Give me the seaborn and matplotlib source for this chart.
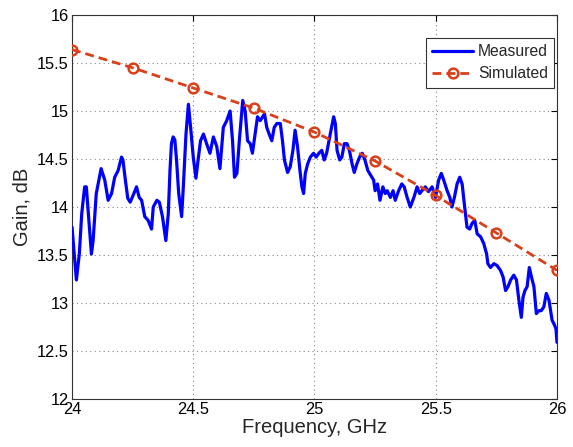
import matplotlib
matplotlib.use("Agg")
import matplotlib.pyplot as plt
import seaborn as sns
import pandas as pd

# Measured gain trace (frequency in GHz, gain in dB)
meas_freq = [
    24.000, 24.018, 24.030, 24.040, 24.052, 24.059, 24.080, 24.087, 24.100, 24.120,
    24.135, 24.149, 24.163, 24.176, 24.190, 24.204, 24.210, 24.220, 24.230, 24.240,
    24.255, 24.266, 24.277, 24.287, 24.300, 24.314, 24.328, 24.335, 24.350, 24.360,
    24.373, 24.387, 24.397, 24.404, 24.410, 24.417, 24.424, 24.431, 24.440, 24.452,
    24.459, 24.470, 24.480, 24.489, 24.500, 24.511, 24.520, 24.530, 24.542, 24.555,
    24.569, 24.583, 24.597, 24.610, 24.624, 24.638, 24.652, 24.662, 24.670, 24.680,
    24.690, 24.704, 24.714, 24.724, 24.735, 24.744, 24.755, 24.765, 24.776, 24.786,
    24.794, 24.803, 24.813, 24.824, 24.834, 24.845, 24.859, 24.868, 24.876, 24.889,
    24.900, 24.911, 24.920, 24.930, 24.940, 24.948, 24.955, 24.962, 24.972, 24.983,
    24.996, 25.007, 25.018, 25.030, 25.040, 25.050, 25.065, 25.079, 25.086, 25.093,
    25.104, 25.113, 25.123, 25.134, 25.144, 25.155, 25.164, 25.175, 25.186, 25.197,
    25.208, 25.220, 25.232, 25.244, 25.250, 25.260, 25.270, 25.282, 25.292, 25.300,
    25.313, 25.324, 25.333, 25.347, 25.360, 25.370, 25.382, 25.395, 25.410, 25.423,
    25.434, 25.443, 25.457, 25.470, 25.485, 25.499, 25.512, 25.523, 25.533, 25.547,
    25.558, 25.567, 25.577, 25.588, 25.599, 25.609, 25.618, 25.629, 25.640, 25.650,
    25.661, 25.671, 25.685, 25.698, 25.710, 25.715, 25.726, 25.740, 25.753, 25.767,
    25.778, 25.788, 25.798, 25.809, 25.822, 25.833, 25.843, 25.853, 25.860, 25.868,
    25.877, 25.886, 25.895, 25.905, 25.915, 25.926, 25.935, 25.946, 25.956, 25.967,
    25.980, 25.990, 25.996, 26.000,
]
meas_gain = [
    13.79, 13.24, 13.51, 13.93, 14.21, 14.21, 13.51, 13.65, 14.14, 14.40,
    14.28, 14.07, 14.14, 14.31, 14.38, 14.52, 14.49, 14.28, 14.09, 14.05,
    14.14, 14.21, 14.10, 14.07, 13.90, 13.86, 13.77, 14.00, 14.07, 14.05,
    13.90, 13.65, 13.93, 14.38, 14.66, 14.73, 14.70, 14.49, 14.14, 13.90,
    14.21, 14.76, 15.07, 14.83, 14.52, 14.30, 14.49, 14.69, 14.76, 14.66,
    14.56, 14.73, 14.63, 14.40, 14.83, 14.90, 15.00, 14.69, 14.31, 14.35,
    14.69, 15.11, 15.00, 14.69, 14.66, 14.56, 14.76, 14.94, 14.90, 14.94,
    14.97, 14.83, 14.76, 14.69, 14.83, 14.87, 14.87, 14.69, 14.49, 14.36,
    14.42, 14.59, 14.80, 14.63, 14.38, 14.21, 14.14, 14.35, 14.45, 14.52,
    14.56, 14.52, 14.56, 14.59, 14.49, 14.56, 14.76, 14.94, 14.87, 14.59,
    14.49, 14.52, 14.66, 14.66, 14.59, 14.45, 14.36, 14.45, 14.52, 14.56,
    14.49, 14.38, 14.33, 14.28, 14.17, 14.24, 14.07, 14.21, 14.14, 14.17,
    14.10, 14.17, 14.07, 14.17, 14.24, 14.21, 14.10, 14.00, 14.10, 14.21,
    14.14, 14.17, 14.21, 14.16, 14.21, 14.10, 14.28, 14.35, 14.28, 14.17,
    14.10, 14.00, 14.10, 14.24, 14.31, 14.24, 14.03, 13.79, 13.77, 13.83,
    13.86, 13.72, 13.69, 13.62, 13.51, 13.41, 13.37, 13.41, 13.39, 13.34,
    13.27, 13.13, 13.17, 13.24, 13.29, 13.24, 13.03, 12.85, 13.06, 13.13,
    13.17, 13.37, 13.27, 13.17, 12.89, 12.92, 12.92, 12.96, 13.10, 13.03,
    12.82, 12.77, 12.73, 12.59,
]

# Simulated gain at 250 MHz steps
sim_freq = [24.00, 24.25, 24.50, 24.75, 25.00, 25.25, 25.50, 25.75, 26.00]
sim_gain = [15.64, 15.45, 15.24, 15.03, 14.78, 14.48, 14.12, 13.73, 13.34]

x_ticks = [24, 24.5, 25, 25.5, 26]
x_tick_labels = ["24", "24.5", "25", "25.5", "26"]
y_ticks = [12, 12.5, 13, 13.5, 14, 14.5, 15, 15.5, 16]
y_tick_labels = ["12", "12.5", "13", "13.5", "14", "14.5", "15", "15.5", "16"]

sns.set_style("white")
plt.rcParams["font.family"] = ["Liberation Sans", "DejaVu Sans"]

fig = plt.figure(figsize=(5.73, 4.47), dpi=100)
ax = fig.add_axes([0.1257, 0.1074, 0.8463, 0.859])

df_meas = pd.DataFrame({"Frequency": meas_freq, "Gain": meas_gain})
df_sim = pd.DataFrame({"Frequency": sim_freq, "Gain": sim_gain})

sns.lineplot(data=df_meas, x="Frequency", y="Gain", ax=ax, color="#0000FF",
             linewidth=2.3, label="Measured", sort=False, zorder=3)
sns.lineplot(data=df_sim, x="Frequency", y="Gain", ax=ax, color="#D9401A",
             linewidth=2.0, linestyle=(0, (3.2, 1.8)), marker="o", markersize=7,
             markerfacecolor="none", markeredgecolor="#D9401A", markeredgewidth=1.8,
             label="Simulated", zorder=4)

ax.set_xlim(24, 26)
ax.set_ylim(12, 16)
ax.set_xticks(x_ticks)
ax.set_xticklabels(x_tick_labels)
ax.set_yticks(y_ticks)
ax.set_yticklabels(y_tick_labels)
ax.tick_params(direction="in", length=4, width=0.8, top=True, right=True,
               labelsize=11.8, colors="black")
ax.tick_params(axis="x", pad=2)
ax.tick_params(axis="y", pad=2.5)
ax.grid(True, linestyle=(0, (1, 3)), color="#888888", linewidth=0.8)
for sp in ax.spines.values():
    sp.set_color("#333333")
    sp.set_linewidth(0.8)

ax.set_xlabel("Frequency, GHz", fontsize=14.5, labelpad=1)
ax.set_ylabel("Gain, dB", fontsize=14.5, labelpad=4)

leg = ax.legend(loc="upper right", bbox_to_anchor=(0.994, 0.940), borderaxespad=0,
                fontsize=11.3, frameon=True, fancybox=False,
                edgecolor="#333333", framealpha=1,
                handlelength=2.6, handletextpad=0.3, borderpad=0.4,
                labelspacing=0.45)
leg.get_frame().set_linewidth(0.8)

fig.savefig("out.png", dpi=100)
